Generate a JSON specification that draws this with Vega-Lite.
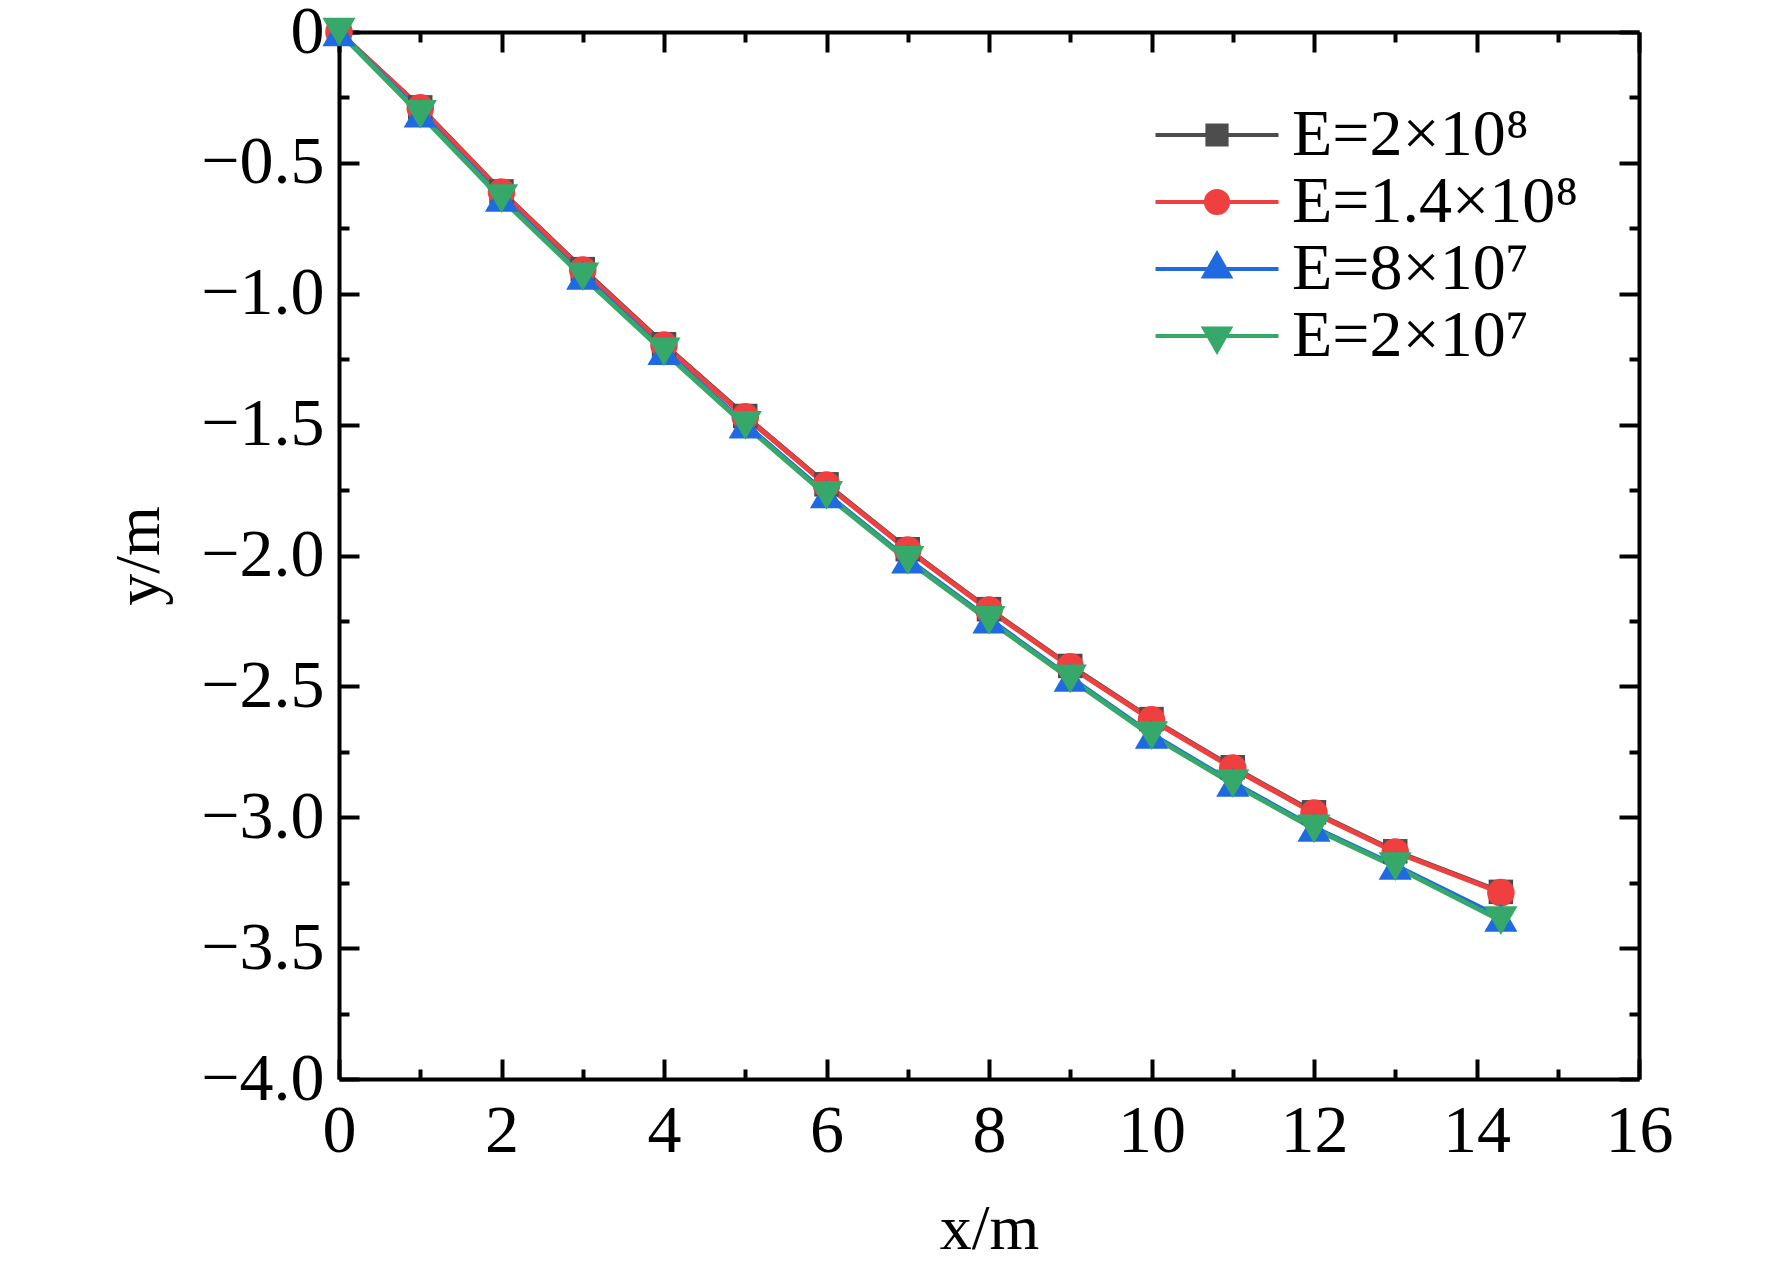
{
  "$schema": "https://vega.github.io/schema/vega-lite/v6.json",
  "width": 1300,
  "height": 1047,
  "autosize": "none",
  "padding": {"left": 339, "top": 32, "right": 133, "bottom": 190},
  "background": "white",
  "config": {
    "font": "Liberation Serif",
    "view": {"stroke": null},
    "axis": {
      "grid": false,
      "domainColor": "black",
      "domainWidth": 4,
      "tickColor": "black",
      "tickWidth": 4,
      "labelColor": "black",
      "titleColor": "black",
      "labelFont": "Liberation Serif",
      "titleFont": "Liberation Serif",
      "labelFontSize": 68,
      "titleFontSize": 64,
      "titleFontWeight": "normal",
      "labelFlush": false
    },
    "legend": {
      "title": null,
      "labelFont": "Liberation Serif",
      "labelFontSize": 66,
      "labelColor": "black",
      "labelLimit": 0
    }
  },
  "data": {
    "values": [
      {"x": 0, "y": 0, "E": "E=2×10⁸"},
      {"x": 1, "y": -0.288, "E": "E=2×10⁸"},
      {"x": 2, "y": -0.609, "E": "E=2×10⁸"},
      {"x": 3, "y": -0.906, "E": "E=2×10⁸"},
      {"x": 4, "y": -1.193, "E": "E=2×10⁸"},
      {"x": 5, "y": -1.467, "E": "E=2×10⁸"},
      {"x": 6, "y": -1.728, "E": "E=2×10⁸"},
      {"x": 7, "y": -1.976, "E": "E=2×10⁸"},
      {"x": 8, "y": -2.205, "E": "E=2×10⁸"},
      {"x": 9, "y": -2.422, "E": "E=2×10⁸"},
      {"x": 10, "y": -2.625, "E": "E=2×10⁸"},
      {"x": 11, "y": -2.809, "E": "E=2×10⁸"},
      {"x": 12, "y": -2.981, "E": "E=2×10⁸"},
      {"x": 13, "y": -3.13, "E": "E=2×10⁸"},
      {"x": 14.3, "y": -3.285, "E": "E=2×10⁸"},
      {"x": 0, "y": 0, "E": "E=1.4×10⁸"},
      {"x": 1, "y": -0.29, "E": "E=1.4×10⁸"},
      {"x": 2, "y": -0.611, "E": "E=1.4×10⁸"},
      {"x": 3, "y": -0.909, "E": "E=1.4×10⁸"},
      {"x": 4, "y": -1.196, "E": "E=1.4×10⁸"},
      {"x": 5, "y": -1.47, "E": "E=1.4×10⁸"},
      {"x": 6, "y": -1.731, "E": "E=1.4×10⁸"},
      {"x": 7, "y": -1.979, "E": "E=1.4×10⁸"},
      {"x": 8, "y": -2.208, "E": "E=1.4×10⁸"},
      {"x": 9, "y": -2.425, "E": "E=1.4×10⁸"},
      {"x": 10, "y": -2.628, "E": "E=1.4×10⁸"},
      {"x": 11, "y": -2.812, "E": "E=1.4×10⁸"},
      {"x": 12, "y": -2.984, "E": "E=1.4×10⁸"},
      {"x": 13, "y": -3.133, "E": "E=1.4×10⁸"},
      {"x": 14.3, "y": -3.288, "E": "E=1.4×10⁸"},
      {"x": 0, "y": 0, "E": "E=8×10⁷"},
      {"x": 1, "y": -0.31, "E": "E=8×10⁷"},
      {"x": 2, "y": -0.632, "E": "E=8×10⁷"},
      {"x": 3, "y": -0.93, "E": "E=8×10⁷"},
      {"x": 4, "y": -1.217, "E": "E=8×10⁷"},
      {"x": 5, "y": -1.498, "E": "E=8×10⁷"},
      {"x": 6, "y": -1.765, "E": "E=8×10⁷"},
      {"x": 7, "y": -2.014, "E": "E=8×10⁷"},
      {"x": 8, "y": -2.243, "E": "E=8×10⁷"},
      {"x": 9, "y": -2.466, "E": "E=8×10⁷"},
      {"x": 10, "y": -2.683, "E": "E=8×10⁷"},
      {"x": 11, "y": -2.867, "E": "E=8×10⁷"},
      {"x": 12, "y": -3.039, "E": "E=8×10⁷"},
      {"x": 13, "y": -3.184, "E": "E=8×10⁷"},
      {"x": 14.3, "y": -3.383, "E": "E=8×10⁷"},
      {"x": 0, "y": 0, "E": "E=2×10⁷"},
      {"x": 1, "y": -0.315, "E": "E=2×10⁷"},
      {"x": 2, "y": -0.637, "E": "E=2×10⁷"},
      {"x": 3, "y": -0.935, "E": "E=2×10⁷"},
      {"x": 4, "y": -1.222, "E": "E=2×10⁷"},
      {"x": 5, "y": -1.503, "E": "E=2×10⁷"},
      {"x": 6, "y": -1.77, "E": "E=2×10⁷"},
      {"x": 7, "y": -2.019, "E": "E=2×10⁷"},
      {"x": 8, "y": -2.248, "E": "E=2×10⁷"},
      {"x": 9, "y": -2.471, "E": "E=2×10⁷"},
      {"x": 10, "y": -2.688, "E": "E=2×10⁷"},
      {"x": 11, "y": -2.872, "E": "E=2×10⁷"},
      {"x": 12, "y": -3.044, "E": "E=2×10⁷"},
      {"x": 13, "y": -3.189, "E": "E=2×10⁷"},
      {"x": 14.3, "y": -3.395, "E": "E=2×10⁷"}
    ]
  },
  "resolve": {"axis": {"x": "independent", "y": "independent"}},
  "layer": [
    {
      "mark": {"type": "point", "opacity": 0},
      "encoding": {
        "x": {"field": "x", "type": "quantitative", "scale": {"domain": [0, 16], "nice": false, "zero": false},
          "axis": {"orient": "bottom", "values": [1, 3, 5, 7, 9, 11, 13, 15], "tickSize": -10, "labels": false, "domain": false, "title": null}},
        "y": {"field": "y", "type": "quantitative", "scale": {"domain": [-4, 0], "nice": false, "zero": false},
          "axis": {"orient": "left", "values": [-3.75, -3.25, -2.75, -2.25, -1.75, -1.25, -0.75, -0.25], "tickSize": -10, "labels": false, "domain": false, "title": null}}
      }
    },
    {
      "mark": {"type": "point", "opacity": 0},
      "encoding": {
        "x": {"field": "x", "type": "quantitative", "scale": {"domain": [0, 16], "nice": false, "zero": false},
          "axis": {"orient": "top", "values": [1, 3, 5, 7, 9, 11, 13, 15], "tickSize": -10, "labels": false, "domain": false, "title": null}},
        "y": {"field": "y", "type": "quantitative", "scale": {"domain": [-4, 0], "nice": false, "zero": false},
          "axis": {"orient": "right", "values": [-3.75, -3.25, -2.75, -2.25, -1.75, -1.25, -0.75, -0.25], "tickSize": -10, "labels": false, "domain": false, "title": null}}
      }
    },
    {
      "mark": {"type": "point", "opacity": 0},
      "encoding": {
        "x": {"field": "x", "type": "quantitative", "scale": {"domain": [0, 16], "nice": false, "zero": false},
          "axis": {"orient": "top", "values": [0, 2, 4, 6, 8, 10, 12, 14, 16], "tickSize": -20, "labels": false, "title": null}},
        "y": {"field": "y", "type": "quantitative", "scale": {"domain": [-4, 0], "nice": false, "zero": false},
          "axis": {"orient": "right", "values": [-4, -3.5, -3, -2.5, -2, -1.5, -1, -0.5, 0], "tickSize": -20, "labels": false, "title": null}}
      }
    },
    {
      "mark": {"type": "line", "strokeWidth": 5},
      "encoding": {
        "x": {"field": "x", "type": "quantitative", "scale": {"domain": [0, 16], "nice": false, "zero": false},
          "axis": {"orient": "bottom", "values": [0, 2, 4, 6, 8, 10, 12, 14, 16], "format": "d", "tickSize": -20, "labelPadding": 38, "title": "x/m", "titlePadding": 32}},
        "y": {"field": "y", "type": "quantitative", "scale": {"domain": [-4, 0], "nice": false, "zero": false},
          "axis": {"orient": "left", "values": [-4, -3.5, -3, -2.5, -2, -1.5, -1, -0.5, 0], "labelExpr": "datum.value == 0 ? '0' : format(datum.value, '.1f')", "tickSize": -20, "labelPadding": 35, "title": "y/m", "titlePadding": 29}},
        "color": {"field": "E", "type": "nominal",
          "scale": {"domain": ["E=2×10⁸", "E=1.4×10⁸", "E=8×10⁷", "E=2×10⁷"], "range": ["#4d4d4d", "#ef3f3f", "#1f6ae0", "#36a96a"]},
          "legend": {
            "orient": "none", "legendX": 845, "legendY": 70,
            "symbolSize": 3600, "labelOffset": 42, "rowPadding": 1,
            "encoding": {"symbols": {
              "shape": {"value": {"expr": "['M-2.05,0H2.05M-0.32,-0.32H0.32V0.32H-0.32Z','M-2.05,0H2.05M-0.37,0A0.37,0.37,0,1,0,0.37,0A0.37,0.37,0,1,0,-0.37,0Z','M-2.05,0H2.05M0,-0.5L0.43,0.25L-0.43,0.25Z','M-2.05,0H2.05M0,0.5L0.43,-0.25L-0.43,-0.25Z'][datum.index]"}},
              "fill": {"value": {"expr": "scale('color', datum.value)"}},
              "stroke": {"value": {"expr": "scale('color', datum.value)"}},
              "strokeWidth": {"value": 4},
              "size": {"value": 3600},
              "opacity": {"value": 1}
            }}
          }}
      }
    },
    {
      "transform": [{"filter": "datum.E == 'E=2×10⁸'"}],
      "mark": {"type": "point", "filled": true, "opacity": 1, "shape": "square", "size": 600},
      "encoding": {
        "x": {"field": "x", "type": "quantitative", "scale": {"domain": [0, 16], "nice": false, "zero": false}, "axis": null},
        "y": {"field": "y", "type": "quantitative", "scale": {"domain": [-4, 0], "nice": false, "zero": false}, "axis": null},
        "color": {"field": "E", "type": "nominal"}
      }
    },
    {
      "transform": [{"filter": "datum.E == 'E=1.4×10⁸'"}],
      "mark": {"type": "point", "filled": true, "opacity": 1, "shape": "circle", "size": 760},
      "encoding": {
        "x": {"field": "x", "type": "quantitative", "scale": {"domain": [0, 16], "nice": false, "zero": false}, "axis": null},
        "y": {"field": "y", "type": "quantitative", "scale": {"domain": [-4, 0], "nice": false, "zero": false}, "axis": null},
        "color": {"field": "E", "type": "nominal"}
      }
    },
    {
      "transform": [{"filter": "datum.E == 'E=8×10⁷'"}],
      "mark": {"type": "point", "filled": true, "opacity": 1, "shape": "triangle-up", "size": 1100},
      "encoding": {
        "x": {"field": "x", "type": "quantitative", "scale": {"domain": [0, 16], "nice": false, "zero": false}, "axis": null},
        "y": {"field": "y", "type": "quantitative", "scale": {"domain": [-4, 0], "nice": false, "zero": false}, "axis": null},
        "color": {"field": "E", "type": "nominal"}
      }
    },
    {
      "transform": [{"filter": "datum.E == 'E=2×10⁷'"}],
      "mark": {"type": "point", "filled": true, "opacity": 1, "shape": "triangle-down", "size": 1100},
      "encoding": {
        "x": {"field": "x", "type": "quantitative", "scale": {"domain": [0, 16], "nice": false, "zero": false}, "axis": null},
        "y": {"field": "y", "type": "quantitative", "scale": {"domain": [-4, 0], "nice": false, "zero": false}, "axis": null},
        "color": {"field": "E", "type": "nominal"}
      }
    }
  ]
}
